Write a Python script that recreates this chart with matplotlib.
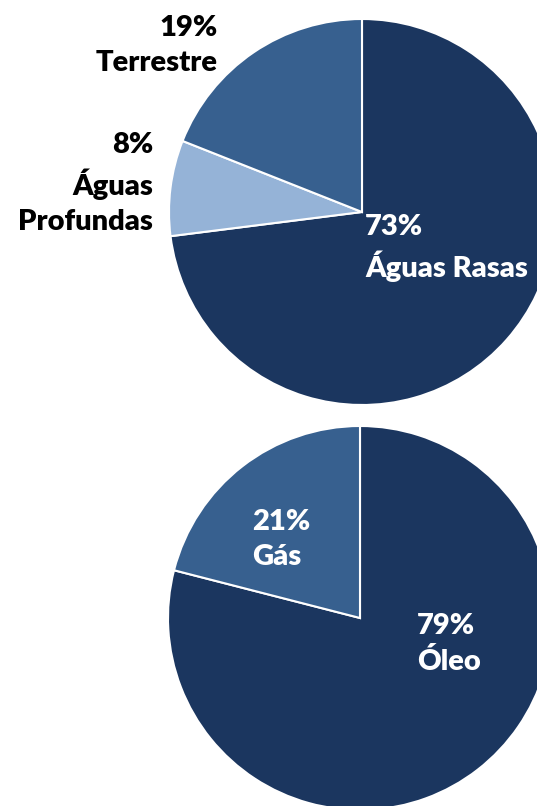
import matplotlib.pyplot as plt

plt.rcParams['font.family'] = ['Lato', 'DejaVu Sans']

# top chart: share by environment
env_labels = ['Águas Rasas', 'Águas\nProfundas', 'Terrestre']
env_values = [73, 8, 19]
env_colors = ['#1b365f', '#95b3d7', '#37608f']

# bottom chart: share by fluid
fluid_labels = ['Óleo', 'Gás']
fluid_values = [79, 21]
fluid_colors = ['#1b365f', '#37608f']

W, H = 537, 806
fig = plt.figure(figsize=(W / 100, H / 100), dpi=100)
ax = fig.add_axes([0, 0, 1, 1])

wedge = dict(edgecolor='white', linewidth=1.5)
ax.pie(env_values, colors=env_colors, startangle=90, counterclock=False,
       center=(362, H - 212), radius=193, wedgeprops=wedge, frame=True)
ax.pie(fluid_values, colors=fluid_colors, startangle=90, counterclock=False,
       center=(360, H - 618), radius=192, wedgeprops=wedge, frame=True)
ax.set_xlim(0, W)
ax.set_ylim(0, H)
ax.axis('off')

txt = dict(fontsize=21, fontweight='heavy', linespacing=1.41, va='baseline')


def label(x, y, value, name, color, ha):
    # y is the baseline of the last line, in pixels from the top
    t = ax.text(x, H - y, f'{value}%\n{name}', color=color, ha=ha,
                multialignment=ha, **txt)
    return t


# top labels
label(365, 277, env_values[0], env_labels[0], 'white', 'left')
label(153, 230, env_values[1], env_labels[1], 'black', 'right')
label(218, 71, env_values[2], env_labels[2], 'black', 'right')

# bottom labels
label(252, 565, fluid_values[1], fluid_labels[1], 'white', 'left')
label(417, 670, fluid_values[0], fluid_labels[0], 'white', 'left')

fig.savefig('out.png', dpi=100)
